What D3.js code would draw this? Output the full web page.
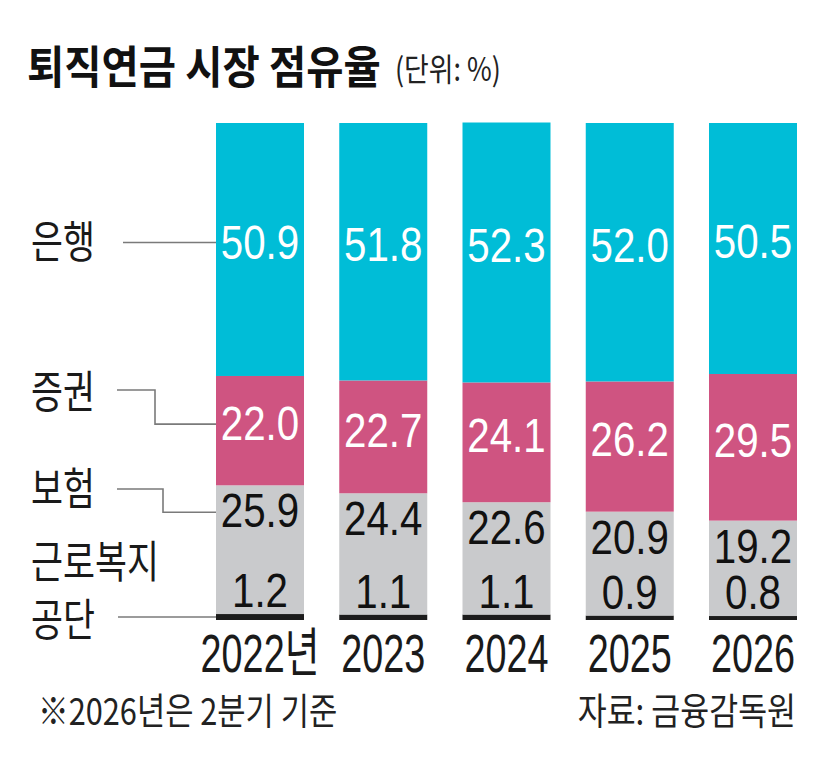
<!DOCTYPE html>
<html><head><meta charset="utf-8">
<script src="https://cdn.jsdelivr.net/npm/d3@7"></script>
<style>
html,body{margin:0;padding:0;background:#fff;}
svg{display:block;}
</style></head>
<body>
<svg id="chart" width="831" height="767"></svg>
<script>
// ---- data ----
const years = ["2022","2023","2024","2025","2026"];
const yearLabels = ["2022년","2023","2024","2025","2026"];
const seriesKeys = ["welfare","insurance","securities","bank"];
const seriesNames = ["근로복지공단","보험","증권","은행"];
const bank = [50.9,51.8,52.3,52.0,50.5];
const securities = [22.0,22.7,24.1,26.2,29.5];
const insurance = [25.9,24.4,22.6,20.9,19.2];
const welfare = [1.2,1.1,1.1,0.9,0.8];
const title = "퇴직연금 시장 점유율";
const unit = "(단위: %)";
const note = "※2026년은 2분기 기준";
const source = "자료: 금융감독원";

const rows = years.map((y,i)=>({year:y, bank:bank[i], securities:securities[i], insurance:insurance[i], welfare:welfare[i]}));

const colors = {bank:"#00BDD7", securities:"#CF5481", insurance:"#C9CACC", welfare:"#1c1c1c"};
const textColors = {bank:"#fff", securities:"#fff", insurance:"#111", welfare:"#111"};

const svg = d3.select("#chart");
const KR = "'Noto Sans CJK KR','Noto Sans',sans-serif";
const NUM = "'Liberation Sans',Arial,sans-serif";

function txt(g, x, y, s, o){
  return g.append("text")
    .attr("transform", `translate(${x},${y}) scale(${o.sx||1},1)`)
    .attr("text-anchor", o.anchor||"start")
    .style("font-family", o.family||KR)
    .style("font-size", o.size+"px")
    .style("font-weight", o.weight||400)
    .attr("fill", o.fill||"#1a1a1a")
    .text(s);
}

const x = d3.scaleBand().domain(years).range([216,797]).paddingInner(0.286).paddingOuter(0);
const y = d3.scaleLinear().domain([0,100]).range([620,123]);

const stacked = d3.stack().keys(seriesKeys)(rows);

// bars
const gBars = svg.append("g");
stacked.forEach(layer=>{
  gBars.selectAll(null).data(layer).enter().append("rect")
    .attr("x", d=>x(d.data.year))
    .attr("width", x.bandwidth())
    .attr("y", d=>y(d[1]))
    .attr("height", d=>y(d[0])-y(d[1]))
    .attr("fill", colors[layer.key]);
});

// value labels
const numSize = 48, numSx = 0.84, capH = 0.716*numSize;
const labelCenter = {};
stacked.forEach(layer=>{
  const k = layer.key;
  layer.forEach((d,i)=>{
    let c;
    if(k==="bank"||k==="securities") c = (y(d[0])+y(d[1]))/2 - 7.5;
    else if(k==="insurance") c = y(d[1]) + 25;
    else c = y(d[1]) - 24;
    if(i===0) labelCenter[k]=c;
    txt(svg, x(d.data.year)+x.bandwidth()/2, c+capH/2, d.data[k].toFixed(1),
      {size:numSize, sx:numSx, anchor:"middle", family:NUM, fill:textColors[k]});
  });
});

// year axis
const ax = svg.append("g").attr("transform","translate(0,672)")
  .call(d3.axisBottom(x).tickSize(0).tickFormat((d,i)=>yearLabels[i]));
ax.select(".domain").remove();
ax.selectAll("text")
  .attr("y",0).attr("dy",null)
  .attr("transform",`scale(0.7,1)`)
  .style("font-family", "'Liberation Sans','Noto Sans CJK KR',sans-serif")
  .style("font-size","54px")
  .attr("fill","#1a1a1a");

// left category labels and leader lines
const x0 = x(years[0]);
const lead = svg.append("g").attr("fill","none").attr("stroke","#7a7a7a").attr("stroke-width",1.6);
const labSize = 44, labSx = 0.79, labOff = 16;
// 은행
txt(svg, 31, 242+labOff, seriesNames[3], {size:labSize, sx:labSx});
lead.append("path").attr("d", `M123,${labelCenter.bank+0.5}H${x0}`);
// 증권
txt(svg, 31, 392+labOff, seriesNames[2], {size:labSize, sx:labSx});
lead.append("path").attr("d", `M117,390H155V${labelCenter.securities+1}H${x0}`);
// 보험
txt(svg, 31, 489+labOff, seriesNames[1], {size:labSize, sx:labSx});
lead.append("path").attr("d", `M117,489H163V${labelCenter.insurance+2}H${x0}`);
// 근로복지공단
txt(svg, 31, 562+labOff, seriesNames[0].slice(0,4), {size:labSize, sx:labSx});
txt(svg, 31, 620+labOff, seriesNames[0].slice(4), {size:labSize, sx:labSx});
lead.append("path").attr("d", `M118,${(y(0)+y(welfare[0]))/2}H${x0}`);

// title
txt(svg, 27, 84, title, {size:45, sx:0.9, weight:700, fill:"#111"});
txt(svg, 395, 81, unit, {size:32, sx:0.84, fill:"#222"});

// footnotes
txt(svg, 38, 725, note, {size:37, sx:0.83, fill:"#222"});
txt(svg, 796, 725, source, {size:37, sx:0.85, anchor:"end", fill:"#222"});
</script>
</body></html>
